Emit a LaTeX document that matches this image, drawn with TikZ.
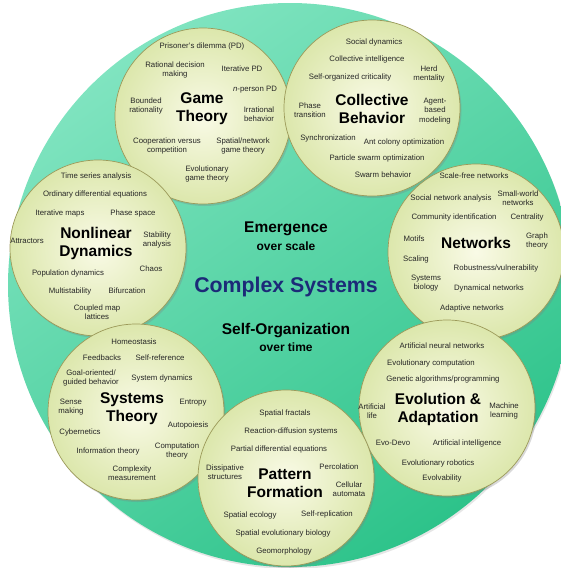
\documentclass[tikz,border=0pt]{standalone}
\usepackage{fontspec}
\setmainfont{Liberation Sans}
\usetikzlibrary{shadows}

\definecolor{mintlight}{HTML}{80E4C0}
\definecolor{mintdark}{HTML}{2DC38A}
\definecolor{creamin}{HTML}{F9FAE6}
\definecolor{creamout}{HTML}{DCE7AC}
\definecolor{olive}{HTML}{9C9A5A}
\definecolor{navy}{HTML}{1C2A78}
\definecolor{topictext}{HTML}{262626}

\tikzset{
    disc/.style={circle, minimum size=564pt, inner sep=0pt, top color=mintlight, bottom color=mintdark, shading angle=35, drop shadow={shadow xshift=1pt, shadow yshift=-2pt, opacity=0.2}},
    bubble/.style={circle, minimum size=176pt, inner sep=0pt, draw=olive, line width=0.7pt, inner color=creamin, outer color=creamout, drop shadow={shadow xshift=1.5pt, shadow yshift=-2pt, opacity=0.3}},
    topic/.style={align=center, text=topictext, inner sep=0pt, font=\fontsize{7.8}{9.5}\selectfont},
    heading/.style={align=center, inner sep=0pt, font=\fontsize{15.5}{18}\selectfont\bfseries},
    theme/.style={inner sep=0pt, font=\fontsize{15.5}{18}\selectfont\bfseries},
    subtheme/.style={inner sep=0pt, font=\fontsize{12}{14}\selectfont\bfseries},
}

\begin{document}
\begin{tikzpicture}[x=1pt, y=-1pt]
    \useasboundingbox (0,0) rectangle (561,568);

%____________________________________________________________________________________________________
    \node[disc] (cs) at (290,285) {};
    \node[bubble] (gtc) at (203,116) {};
    \node[bubble] (cbc) at (372,108) {};
    \node[bubble] (ndc) at (98,248) {};
    \node[bubble] (nwc) at (476,252) {};
    \node[bubble] (stc) at (136,412) {};
    \node[bubble] (eac) at (447,408) {};
    \node[bubble] (pfc) at (286,478) {};

    \node[theme] (emerge) at (286,229) {Emergence};
    \node[subtheme] (scale) at (286,246) {over scale};
    \node[inner sep=0pt, text=navy, font=\fontsize{21.3}{24}\selectfont\bfseries] (title) at (286,287) {Complex Systems};
    \node[theme] (selforg) at (286,331) {Self-Organization};
    \node[subtheme] (time) at (286,347) {over time};
%____________________________________________________________________________________________________
    \node[heading] (gt) at (202,109) {Game\\Theory};
    \node[topic] (gt1) at (202,46) {Prisoner’s dilemma (PD)};
    \node[topic] (gt2) at (175,70) {Rational decision\\making};
    \node[topic] (gt3) at (242,69) {Iterative PD};
    \node[topic] (gt4) at (255,90) {\textit{n}-person PD};
    \node[topic] (gt5) at (146,106) {Bounded\\rationality};
    \node[topic] (gt6) at (259,114) {Irrational\\behavior};
    \node[topic] (gt7) at (167,146) {Cooperation versus\\competition};
    \node[topic] (gt8) at (243,146) {Spatial/network\\game theory};
    \node[topic] (gt9) at (207,174) {Evolutionary\\game theory};
%____________________________________________________________________________________________________
    \node[heading] (cb) at (372,109) {Collective\\Behavior};
    \node[topic] (cb1) at (374,42) {Social dynamics};
    \node[topic] (cb2) at (367,59) {Collective intelligence};
    \node[topic] (cb3) at (350,77) {Self-organized criticality};
    \node[topic] (cb4) at (429,74) {Herd\\mentality};
    \node[topic] (cb5) at (310,110) {Phase\\transition};
    \node[topic] (cb6) at (435,111) {Agent-\\based\\modeling};
    \node[topic] (cb7) at (328,138) {Synchronization};
    \node[topic] (cb8) at (404,142) {Ant colony optimization};
    \node[topic] (cb9) at (377,158) {Particle swarm optimization};
    \node[topic] (cb10) at (383,175) {Swarm behavior};
%____________________________________________________________________________________________________
    \node[heading] (nd) at (96,243) {Nonlinear\\Dynamics};
    \node[topic] (nd1) at (96,176) {Time series analysis};
    \node[topic] (nd2) at (95,194) {Ordinary differential equations};
    \node[topic] (nd3) at (60,213) {Iterative maps};
    \node[topic] (nd4) at (133,213) {Phase space};
    \node[topic] (nd5) at (27,241) {Attractors};
    \node[topic] (nd6) at (157,240) {Stability\\analysis};
    \node[topic] (nd7) at (151,269) {Chaos};
    \node[topic] (nd8) at (68,273) {Population dynamics};
    \node[topic] (nd9) at (70,291) {Multistability};
    \node[topic] (nd10) at (127,291) {Bifurcation};
    \node[topic] (nd11) at (97,312) {Coupled map\\lattices};
%____________________________________________________________________________________________________
    \node[heading] (nw) at (476,243) {Networks};
    \node[topic] (nw1) at (474,176) {Scale-free networks};
    \node[topic] (nw2) at (451,198) {Social network analysis};
    \node[topic] (nw3) at (518,198) {Small-world\\networks};
    \node[topic] (nw4) at (454,217) {Community identification};
    \node[topic] (nw5) at (527,217) {Centrality};
    \node[topic] (nw6) at (414,239) {Motifs};
    \node[topic] (nw7) at (537,241) {Graph\\theory};
    \node[topic] (nw8) at (416,259) {Scaling};
    \node[topic] (nw9) at (496,268) {Robustness/vulnerability};
    \node[topic] (nw10) at (426,283) {Systems\\biology};
    \node[topic] (nw11) at (489,288) {Dynamical networks};
    \node[topic] (nw12) at (472,308) {Adaptive networks};
%____________________________________________________________________________________________________
    \node[heading] (st) at (132,409) {Systems\\Theory};
    \node[topic] (st1) at (134,342) {Homeostasis};
    \node[topic] (st2) at (102,358) {Feedbacks};
    \node[topic] (st3) at (160,358) {Self-reference};
    \node[topic] (st4) at (91,378) {Goal-oriented/\\guided behavior};
    \node[topic] (st5) at (162,378) {System dynamics};
    \node[topic] (st6) at (71,407) {Sense\\making};
    \node[topic] (st7) at (193,403) {Entropy};
    \node[topic] (st8) at (188,425) {Autopoiesis};
    \node[topic] (st9) at (80,432) {Cybernetics};
    \node[topic] (st10) at (108,451) {Information theory};
    \node[topic] (st11) at (177,451) {Computation\\theory};
    \node[topic] (st12) at (132,473) {Complexity\\measurement};
%____________________________________________________________________________________________________
    \node[heading] (ea) at (438,409) {Evolution \&\\Adaptation};
    \node[topic] (ea1) at (442,346) {Artificial neural networks};
    \node[topic] (ea2) at (431,363) {Evolutionary computation};
    \node[topic] (ea3) at (443,379) {Genetic algorithms/programming};
    \node[topic] (ea4) at (372,411) {Artificial\\life};
    \node[topic] (ea5) at (504,411) {Machine\\learning};
    \node[topic] (ea6) at (393,443) {Evo-Devo};
    \node[topic] (ea7) at (467,443) {Artificial intelligence};
    \node[topic] (ea8) at (438,463) {Evolutionary robotics};
    \node[topic] (ea9) at (442,478) {Evolvability};
%____________________________________________________________________________________________________
    \node[heading] (pf) at (285,483) {Pattern\\Formation};
    \node[topic] (pf1) at (285,413) {Spatial fractals};
    \node[topic] (pf2) at (291,431) {Reaction-diffusion systems};
    \node[topic] (pf3) at (279,449) {Partial differential equations};
    \node[topic] (pf4) at (225,472) {Dissipative\\structures};
    \node[topic] (pf5) at (339,467) {Percolation};
    \node[topic] (pf6) at (349,489) {Cellular\\automata};
    \node[topic] (pf7) at (250,515) {Spatial ecology};
    \node[topic] (pf8) at (327,514) {Self-replication};
    \node[topic] (pf9) at (283,533) {Spatial evolutionary biology};
    \node[topic] (pf10) at (284,551) {Geomorphology};
\end{tikzpicture}
\end{document}
